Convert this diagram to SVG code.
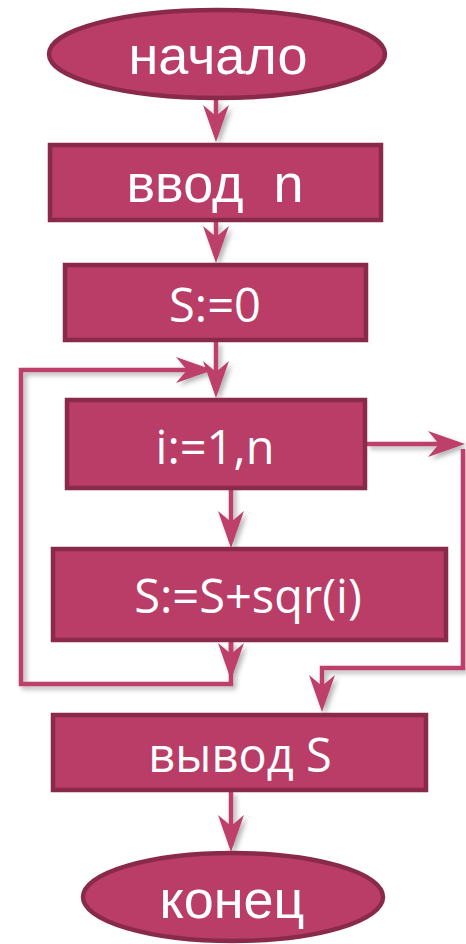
<svg xmlns="http://www.w3.org/2000/svg" width="466" height="944" viewBox="0 0 466 944">
  <style>
    .blk { fill: #B93D67; stroke: #8A2A4A; stroke-width: 4.5; }
    .t1 { font-family: "Liberation Sans", Arial, sans-serif; font-size: 54px; fill: #FFFFFF; text-anchor: middle; }
    .t2 { font-family: "Open Sans", "Noto Sans", sans-serif; font-size: 47px; fill: #FFFFFF; text-anchor: middle; }
    .con { fill: none; stroke: #BC3F6A; stroke-width: 4.5; }
  </style>
  <defs>
    <filter id="sh" x="-20%" y="-20%" width="140%" height="140%">
      <feDropShadow dx="3" dy="3" stdDeviation="2.5" flood-color="#000000" flood-opacity="0.3"/>
    </filter>
    <marker id="ah" markerUnits="userSpaceOnUse" markerWidth="40" markerHeight="30" viewBox="0 -15 40 30" refX="30" refY="0" orient="auto">
      <path d="M0,-13 L37,0 L0,13 L11,0 Z" fill="#BC3F6A"/>
    </marker>
  </defs>

  <g id="connectors" filter="url(#sh)">
    <line class="con" x1="216" y1="100" x2="216" y2="135" marker-end="url(#ah)"/>
    <line class="con" x1="216" y1="222" x2="216" y2="256" marker-end="url(#ah)"/>
    <line class="con" x1="216" y1="342" x2="216" y2="391" marker-end="url(#ah)"/>
    <line class="con" x1="231" y1="476" x2="231" y2="541" marker-end="url(#ah)"/>
    <path class="con" d="M231,642 V684 H21 V370 H206" marker-end="url(#ah)"/>
    <line class="con" x1="231" y1="642" x2="231" y2="673" marker-end="url(#ah)"/>
    <line class="con" x1="367" y1="444" x2="458" y2="444" marker-end="url(#ah)"/>
    <path class="con" d="M463,449 V668 H322 V705" marker-end="url(#ah)"/>
    <line class="con" x1="231" y1="792" x2="231" y2="845" marker-end="url(#ah)"/>
  </g>

  <g id="start">
    <ellipse class="blk" cx="217" cy="54" rx="168" ry="44"/>
    <text class="t1" x="218" y="74">начало</text>
  </g>
  <g id="input">
    <rect class="blk" x="50" y="145" width="331" height="75"/>
    <text class="t1" x="215" y="202" xml:space="preserve">ввод  n</text>
  </g>
  <g id="init">
    <rect class="blk" x="65" y="265" width="301" height="75"/>
    <text class="t2" x="215" y="322">S:=0</text>
  </g>
  <g id="loop">
    <rect class="blk" x="67" y="400" width="298" height="88"/>
    <text class="t2" x="215" y="464">i:=1,n</text>
  </g>
  <g id="body">
    <rect class="blk" x="53" y="549" width="393" height="91"/>
    <text class="t2" x="248" y="613">S:=S+sqr(i)</text>
  </g>
  <g id="output">
    <rect class="blk" x="53" y="715" width="373" height="75"/>
    <text class="t2" x="240" y="772">вывод S</text>
  </g>
  <g id="end">
    <ellipse class="blk" cx="233" cy="897" rx="150" ry="44"/>
    <text class="t1" x="232" y="918">конец</text>
  </g>
</svg>
